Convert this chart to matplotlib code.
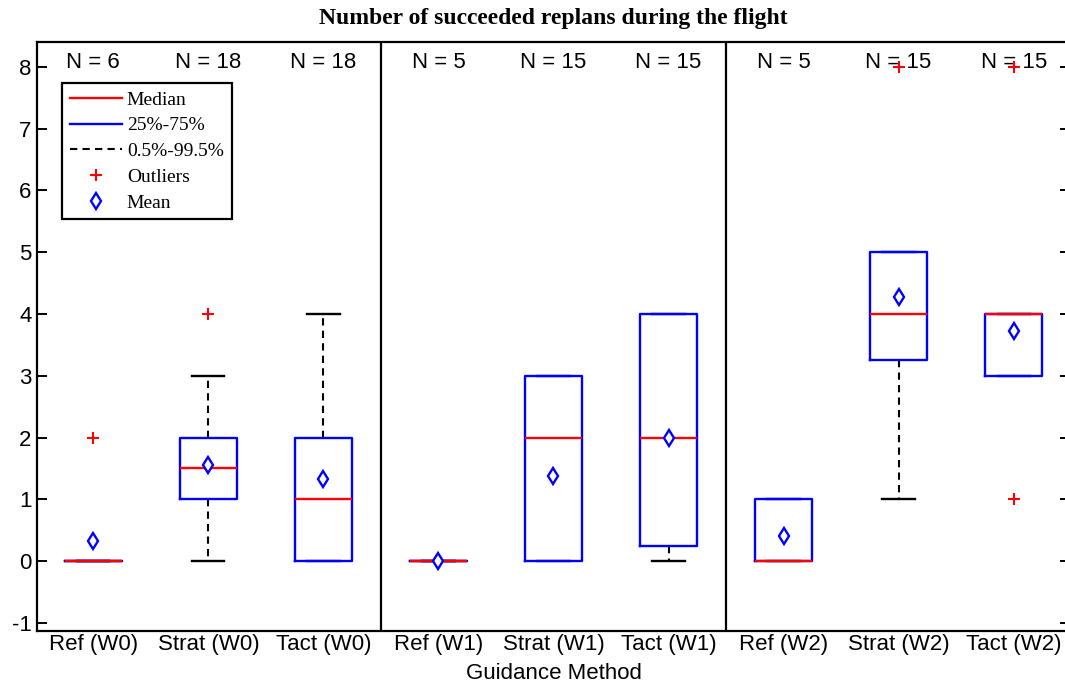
import matplotlib
matplotlib.use('Agg')
import matplotlib.pyplot as plt
from matplotlib.lines import Line2D

# box statistics
labels = ['Ref (W0)', 'Strat (W0)', 'Tact (W0)',
          'Ref (W1)', 'Strat (W1)', 'Tact (W1)',
          'Ref (W2)', 'Strat (W2)', 'Tact (W2)']
counts = [6, 18, 18, 5, 15, 15, 5, 15, 15]
medians = [0, 1.5, 1, 0, 2, 2, 0, 4, 4]
q1 = [0, 1, 0, 0, 0, 0.25, 0, 3.25, 3]
q3 = [0, 2, 2, 0, 3, 4, 1, 5, 4]
whis_lo = [0, 0, 0, 0, 0, 0, 0, 1, 3]
whis_hi = [0, 3, 4, 0, 3, 4, 1, 5, 4]
means = [0.33, 1.55, 1.33, 0, 1.38, 2.0, 0.4, 4.27, 3.72]
outliers = [[2], [4], [], [], [], [], [], [8], [8, 1]]

sans = 'Liberation Sans'
serif = 'Liberation Serif'
plt.rcParams['axes.unicode_minus'] = False

stats = []
for i in range(len(labels)):
    stats.append(dict(med=medians[i], q1=q1[i], q3=q3[i], whislo=whis_lo[i],
                      whishi=whis_hi[i], mean=means[i], fliers=outliers[i],
                      label=labels[i]))

fig = plt.figure(figsize=(10.65, 6.86), dpi=100)
ax = fig.add_axes([0.0347, 0.0802, 0.9700, 0.8586])

positions = list(range(1, len(labels) + 1))
ax.bxp(stats, positions=positions, widths=0.5, capwidths=0.28,
       showmeans=True, showfliers=True,
       boxprops=dict(color='blue', linewidth=1.7, zorder=3),
       medianprops=dict(color='red', linewidth=1.7, zorder=4),
       whiskerprops=dict(color='black', linewidth=1.5, linestyle=(0, (3.5, 2.5)), zorder=2),
       capprops=dict(color='black', linewidth=1.7, zorder=2),
       flierprops=dict(marker='+', markeredgecolor='red', markersize=8,
                       markeredgewidth=1.5, linestyle='none', zorder=5),
       meanprops=dict(marker='d', markeredgecolor='blue', markerfacecolor='white',
                      markersize=8, markeredgewidth=1.7, zorder=6))

# group separators
for xs in (3.5, 6.5):
    ax.axvline(xs, color='black', linewidth=1.6, zorder=1)

# sample sizes
for p, n in zip(positions, counts):
    ax.text(p, 8.07, f'N = {n}', ha='center', va='center', fontsize=16,
            family=sans)

ax.set_xlim(0.51, 9.49)
ax.set_ylim(-1.13, 8.4)
ax.set_yticks(range(-1, 9))
ax.tick_params(axis='y', direction='in', length=7.5, width=1.4,
               right=True, labelsize=16, pad=4)
ax.tick_params(axis='x', length=0, labelsize=16, pad=2)
for lab in ax.get_xticklabels() + ax.get_yticklabels():
    lab.set_family(sans)
for sp in ax.spines.values():
    sp.set_linewidth(1.6)

ax.set_xlabel('Guidance Method', fontsize=16, family=sans, labelpad=6)
ax.set_title('Number of succeeded replans during the flight', fontsize=17,
             fontweight='bold', family=serif, pad=13)

handles = [
    Line2D([], [], color='red', linewidth=1.7),
    Line2D([], [], color='blue', linewidth=1.7),
    Line2D([], [], color='black', linewidth=1.5, linestyle=(0, (3.5, 2.5))),
    Line2D([], [], color='red', marker='+', linestyle='none', markersize=8,
           markeredgewidth=1.5),
    Line2D([], [], color='blue', marker='d', markerfacecolor='white',
           linestyle='none', markersize=8, markeredgewidth=1.7),
]
leg = ax.legend(handles, ['Median', '25%-75%', '0.5%-99.5%', 'Outliers', 'Mean'],
                loc='upper left', bbox_to_anchor=(0.024, 0.93), borderaxespad=0,
                prop=dict(family=serif, size=14), fancybox=False,
                edgecolor='black', framealpha=1, handlelength=2.7,
                labelspacing=0.42, borderpad=0.4, handletextpad=0.25)
leg.get_frame().set_linewidth(1.6)

fig.savefig('out.png', dpi=100, facecolor='white')
